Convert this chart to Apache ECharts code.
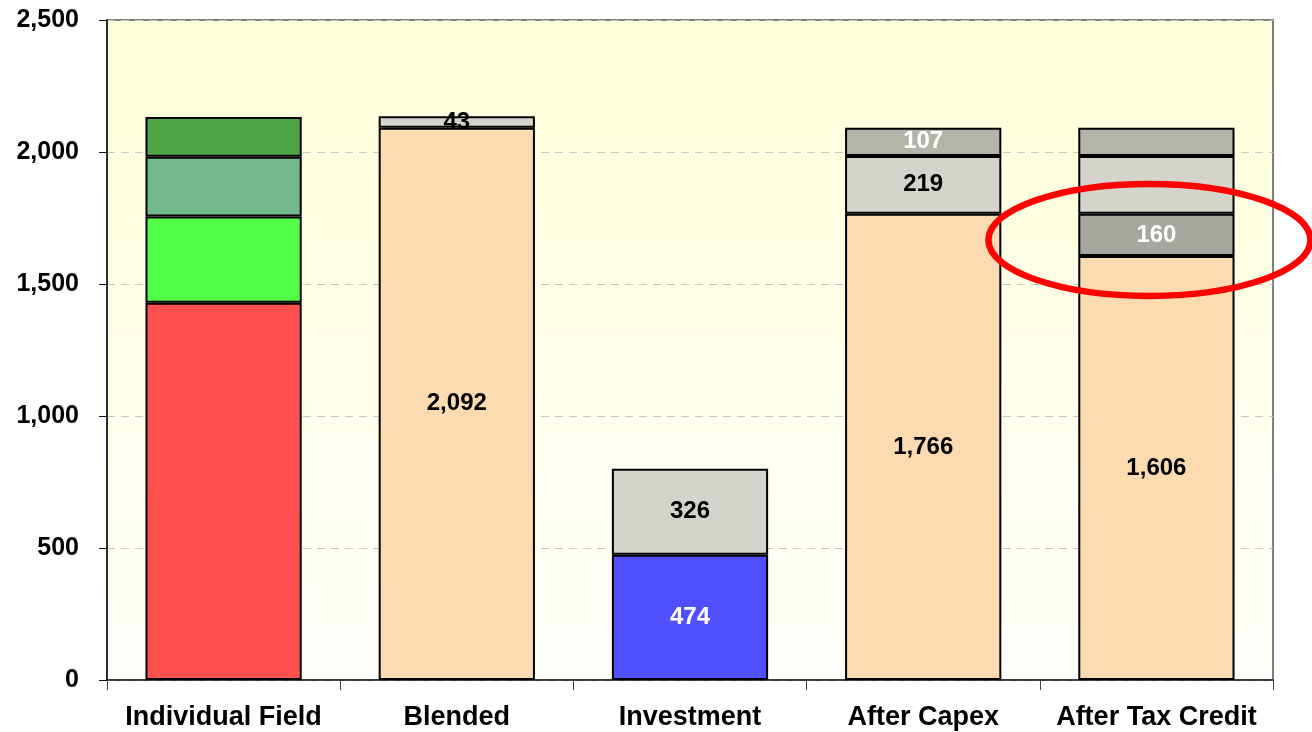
<!DOCTYPE html>
<html>
<head>
<meta charset="utf-8">
<script src="https://cdn.jsdelivr.net/npm/echarts@6/dist/echarts.min.js"></script>
<style>
  html, body { margin: 0; padding: 0; background: #fff; }
  #chart { width: 1312px; height: 732px; }
</style>
</head>
<body>
<div id="chart"></div>
<script>
// categories on the x axis
const categories = ['Individual Field', 'Blended', 'Investment', 'After Capex', 'After Tax Credit'];

// stacked segments, bottom to top
const fieldRed   = [1429, null, null, null, null];
const fieldGreen = [327, null, null, null, null];
const fieldTeal  = [226, null, null, null, null];
const fieldDark  = [151, null, null, null, null];
const baseValue  = [null, 2092, null, 1766, 1606];
const investBlue = [null, null, 474, null, null];
const taxCredit  = [null, null, null, null, 160];
const lightGray  = [null, 43, 326, 219, 219];
const darkGray   = [null, null, null, 107, 107];

// which bars carry a value label
const lightGrayLabels = [false, true, true, true, false];
const darkGrayLabels  = [false, false, false, true, false];

const yTicks = [0, 500, 1000, 1500, 2000, 2500];

const fmt = v => Number(v).toLocaleString('en-US');

function seg(name, data, color, labelColor, showList) {
	return {
		name: name,
		type: 'bar',
		stack: 'total',
		barWidth: '67%',
		itemStyle: { color: color, borderColor: '#000', borderWidth: 2 },
		label: {
			show: !!showList,
			position: 'inside',
			color: labelColor,
			fontFamily: 'Liberation Sans, Arial, sans-serif',
			fontWeight: 'bold',
			fontSize: 24,
			formatter: p => fmt(p.value)
		},
		data: data.map((v, i) => {
			if (v == null) return '-';
			if (Array.isArray(showList)) return { value: v, label: { show: showList[i] } };
			return v;
		})
	};
}

var chartDom = document.getElementById('chart');
var myChart = echarts.init(chartDom);
var option;

option = {
	animation: false,
	grid: {
		left: 107, right: 39, top: 20, bottom: 52,
		outerBoundsMode: 'none',
		show: true,
		borderColor: '#808080',
		borderWidth: 2,
		backgroundColor: new echarts.graphic.LinearGradient(0, 0, 0, 1, [
			{ offset: 0, color: '#FFFFD9' },
			{ offset: 1, color: '#FFFFFB' }
		])
	},
	xAxis: {
		type: 'category',
		data: categories,
		axisLine: { lineStyle: { color: '#222', width: 1.5 } },
		axisTick: { show: true, length: 10, lineStyle: { color: '#444' } },
		axisLabel: {
			color: '#000',
			fontFamily: 'Liberation Sans, Arial, sans-serif',
			fontWeight: 'bold',
			fontSize: 27,
			margin: 24,
			interval: 0
		}
	},
	yAxis: {
		type: 'value',
		min: yTicks[0],
		max: yTicks[yTicks.length - 1],
		interval: 500,
		axisLine: { show: true, lineStyle: { color: '#111', width: 1.5 } },
		axisTick: { show: true, length: 8, lineStyle: { color: '#111' } },
		axisLabel: {
			color: '#000',
			fontFamily: 'Liberation Sans, Arial, sans-serif',
			fontWeight: 'bold',
			fontSize: 25,
			margin: 28,
			formatter: v => fmt(v)
		},
		splitLine: { lineStyle: { color: '#C8C8C8', type: [8, 6] } }
	},
	series: [
		seg('Field A', fieldRed, '#FF5050'),
		seg('Field B', fieldGreen, '#50FF46'),
		seg('Field C', fieldTeal, '#74B98B'),
		seg('Field D', fieldDark, '#50A646'),
		seg('Base', baseValue, '#FDDBB1', '#000', true),
		seg('Investment', investBlue, '#5050FF', '#fff', true),
		seg('Tax Credit', taxCredit, '#A6A69E', '#fff', true),
		seg('Capex', lightGray, '#D4D4CC', '#000', lightGrayLabels),
		seg('Other', darkGray, '#B4B4AA', '#fff', darkGrayLabels)
	]
};

option && myChart.setOption(option);

// highlight ellipse around the tax credit segment
const c = myChart.convertToPixel({ xAxisIndex: 0, yAxisIndex: 0 }, [categories[4], 1667]);
myChart.setOption({
	graphic: [{
		type: 'ellipse',
		z: 100,
		shape: { cx: c[0] - 7, cy: c[1], rx: 161, ry: 56 },
		style: { fill: 'none', stroke: '#FF0000', lineWidth: 6.5 }
	}]
});
</script>
</body>
</html>
